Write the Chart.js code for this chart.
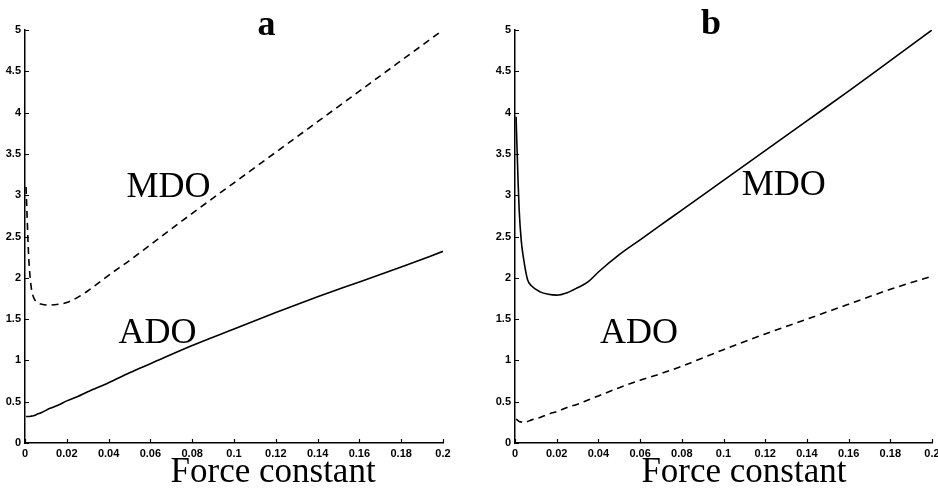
<!DOCTYPE html>
<html>
<head>
<meta charset="utf-8">
<script src="https://cdn.jsdelivr.net/npm/chart.js@4/dist/chart.umd.min.js"></script>
<style>
  html, body { margin: 0; padding: 0; background: #fff; }
  body { width: 938px; height: 496px; position: relative; overflow: hidden; }
  .panel { position: absolute; top: 0; width: 469px; height: 496px; }
</style>
</head>
<body>
<div class="panel" style="left:0"><canvas id="chart-a"></canvas></div>
<div class="panel" style="left:469px"><canvas id="chart-b"></canvas></div>
<script>
// ─── Data ─────────────────────────────────────────────────────────────────────
const forceTicks = [0, 0.02, 0.04, 0.06, 0.08, 0.1, 0.12, 0.14, 0.16, 0.18, 0.2];
const forceTickLabels = ['0', '0.02', '0.04', '0.06', '0.08', '0.1', '0.12', '0.14', '0.16', '0.18', '0.2'];
const valueTicks = [0, 0.5, 1, 1.5, 2, 2.5, 3, 3.5, 4, 4.5, 5];
const valueTickLabels = ['0', '0.5', '1', '1.5', '2', '2.5', '3', '3.5', '4', '4.5', '5'];

// panel a
const forceA = [0.0005, 0.001, 0.0015, 0.002, 0.003, 0.004, 0.006, 0.008, 0.012, 0.016, 0.02, 0.025, 0.03, 0.04, 0.05, 0.06, 0.08, 0.1, 0.12, 0.14, 0.16, 0.18, 0.2];
const mdoA = [3.1, 2.75, 2.4, 2.15, 1.88, 1.77, 1.70, 1.68, 1.67, 1.68, 1.70, 1.76, 1.84, 2.03, 2.21, 2.40, 2.78, 3.15, 3.52, 3.89, 4.26, 4.63, 5.0];
const adoA = [0.32, 0.32, 0.32, 0.32, 0.325, 0.33, 0.35, 0.37, 0.42, 0.46, 0.51, 0.56, 0.62, 0.73, 0.85, 0.96, 1.18, 1.38, 1.58, 1.77, 1.95, 2.13, 2.32];

// panel b
const forceB = [0.0005, 0.001, 0.0015, 0.002, 0.003, 0.004, 0.006, 0.008, 0.012, 0.016, 0.02, 0.025, 0.03, 0.035, 0.04, 0.05, 0.06, 0.07, 0.08, 0.1, 0.12, 0.14, 0.16, 0.18, 0.2];
const mdoB = [3.95, 3.55, 3.15, 2.82, 2.45, 2.25, 1.98, 1.90, 1.83, 1.80, 1.79, 1.82, 1.88, 1.95, 2.07, 2.28, 2.46, 2.64, 2.82, 3.18, 3.54, 3.90, 4.26, 4.63, 5.0];
const adoB = [0.29, 0.28, 0.27, 0.26, 0.255, 0.25, 0.26, 0.28, 0.31, 0.35, 0.38, 0.43, 0.47, 0.52, 0.57, 0.67, 0.76, 0.84, 0.93, 1.13, 1.32, 1.50, 1.68, 1.86, 2.02];

// ─── Text placed on each panel (data coordinates) ───────────────────────────
const SERIF = '"Liberation Serif", "Times New Roman", serif';
const notesA = [
  { text: 'a', x: 0.1156, y: 4.94, font: 'bold 36px ' + SERIF, align: 'center' },
  { text: 'MDO', x: 0.0486, y: 2.98, font: '36px ' + SERIF, align: 'left' },
  { text: 'ADO', x: 0.0447, y: 1.21, font: '36px ' + SERIF, align: 'left' },
  { text: 'Force constant', x: 0.1187, y: -0.47, font: '35px ' + SERIF, align: 'center' }
];
const notesB = [
  { text: 'b', x: 0.094, y: 4.95, font: 'bold 36px ' + SERIF, align: 'center' },
  { text: 'MDO', x: 0.1087, y: 3.0, font: '36px ' + SERIF, align: 'left' },
  { text: 'ADO', x: 0.0408, y: 1.21, font: '36px ' + SERIF, align: 'left' },
  { text: 'Force constant', x: 0.1098, y: -0.47, font: '35px ' + SERIF, align: 'center' }
];

// ─── Plugins ─────────────────────────────────────────────────────────────────
const inwardTicks = {
  id: 'inwardTicks',
  afterDraw(chart) {
    const { ctx, chartArea: a, scales: { x, y } } = chart;
    ctx.save();
    ctx.strokeStyle = '#000';
    ctx.lineWidth = 1.2;
    ctx.beginPath();
    x.ticks.forEach(t => {
      const px = Math.round(x.getPixelForValue(t.value)) + 0.5;
      ctx.moveTo(px, a.bottom); ctx.lineTo(px, a.bottom - 4);
    });
    y.ticks.forEach(t => {
      const py = Math.round(y.getPixelForValue(t.value)) + 0.5;
      ctx.moveTo(a.left, py); ctx.lineTo(a.left + 4, py);
    });
    ctx.stroke();
    ctx.restore();
  }
};

const notesPlugin = {
  id: 'notes',
  afterDraw(chart, args, opts) {
    const { ctx, scales: { x, y } } = chart;
    ctx.save();
    ctx.fillStyle = '#000';
    ctx.textBaseline = 'alphabetic';
    (opts.items || []).forEach(n => {
      ctx.font = n.font;
      ctx.textAlign = n.align;
      ctx.fillText(n.text, x.getPixelForValue(n.x), y.getPixelForValue(n.y));
    });
    ctx.restore();
  }
};

// ─── Chart builder ───────────────────────────────────────────────────────────
function points(xs, ys) {
  return xs.map((v, i) => ({ x: v, y: ys[i] }));
}

function makePanel(canvasId, force, solid, dashed, notes, padLeft, padRight) {
  const tickFont = { family: '"Liberation Sans", Arial, sans-serif', size: 11, weight: 'bold' };
  return new Chart(document.getElementById(canvasId), {
    type: 'line',
    data: {
      datasets: [
        { data: points(force, solid), borderColor: '#000', borderWidth: 1.6, pointRadius: 0, cubicInterpolationMode: 'monotone' },
        { data: points(force, dashed), borderColor: '#000', borderWidth: 1.6, pointRadius: 0, borderDash: [7, 5], cubicInterpolationMode: 'monotone' }
      ]
    },
    options: {
      responsive: true,
      maintainAspectRatio: false,
      animation: false,
      devicePixelRatio: 1,
      layout: { padding: { left: padLeft, right: padRight, top: 30, bottom: 0 } },
      plugins: { legend: { display: false }, tooltip: { enabled: false }, notes: { items: notes } },
      scales: {
        x: {
          type: 'linear', min: 0, max: 0.2,
          grid: { display: false, drawTicks: false },
          border: { display: true, color: '#000', width: 1.5 },
          afterBuildTicks: s => { s.ticks = forceTicks.map(v => ({ value: v })); },
          afterFit: s => { s.height = 53; s.paddingLeft = 0; s.paddingRight = 0; },
          ticks: {
            color: '#000', font: tickFont, padding: 4, maxRotation: 0, autoSkip: false,
            callback: (v, i) => forceTickLabels[i]
          }
        },
        y: {
          type: 'linear', min: 0, max: 5,
          grid: { display: false, drawTicks: false },
          border: { display: true, color: '#000', width: 1.5 },
          afterBuildTicks: s => { s.ticks = valueTicks.map(v => ({ value: v })); },
          afterFit: s => { s.width = 25; s.paddingTop = 0; s.paddingBottom = 0; },
          ticks: {
            color: '#000', font: tickFont, padding: 4, autoSkip: false,
            callback: (v, i) => valueTickLabels[i]
          }
        }
      }
    },
    plugins: [inwardTicks, notesPlugin]
  });
}

// panel a: solid = ADO, dashed = MDO ; panel b: solid = MDO, dashed = ADO
makePanel('chart-a', forceA, adoA, mdoA, notesA, 0, 26);
makePanel('chart-b', forceB, mdoB, adoB, notesB, 21, 6);
</script>
</body>
</html>
